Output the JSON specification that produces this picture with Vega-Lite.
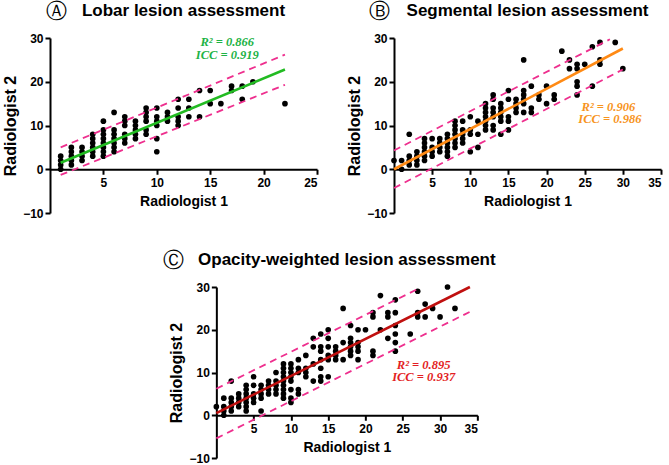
{
  "$schema": "https://vega.github.io/schema/vega-lite/v6.json",
  "padding": {"left": 2, "top": 0, "right": 5, "bottom": 0},
  "background": "white",
  "config": {
    "view": {"stroke": null},
    "axis": {"domainColor": "black", "domainWidth": 2, "tickColor": "black", "tickWidth": 2, "tickSize": 5, "grid": false, "labelFont": "Liberation Sans", "labelFontWeight": "bold", "labelFontSize": 12, "labelColor": "black", "labelPadding": 2, "titleFont": "Liberation Sans", "titleFontWeight": "bold", "titleColor": "black"},
    "title": {"font": "Liberation Sans", "fontSize": 17, "fontWeight": "bold", "color": "black", "anchor": "middle", "offset": -19}
  },
  "datasets": {
    "A_pts": [
      {"x":1,"y":0},{"x":1,"y":1},{"x":1,"y":2},{"x":1,"y":3},
      {"x":2,"y":1},{"x":2,"y":2},{"x":2,"y":3},{"x":2,"y":4},{"x":2,"y":5},
      {"x":3,"y":2},{"x":3,"y":3},{"x":3,"y":4},{"x":3,"y":5},
      {"x":4,"y":3},{"x":4,"y":4},{"x":4,"y":5},{"x":4,"y":6},{"x":4,"y":7},{"x":4,"y":8},
      {"x":5,"y":3},{"x":5,"y":4},{"x":5,"y":5},{"x":5,"y":6},{"x":5,"y":7},{"x":5,"y":8},{"x":5,"y":9},{"x":5,"y":11},
      {"x":6,"y":4},{"x":6,"y":5},{"x":6,"y":6},{"x":6,"y":7},{"x":6,"y":8},{"x":6,"y":9},{"x":6,"y":13},
      {"x":7,"y":6},{"x":7,"y":7},{"x":7,"y":8},{"x":7,"y":10},{"x":7,"y":11},{"x":7,"y":12},
      {"x":8,"y":7},{"x":8,"y":8},{"x":8,"y":9},{"x":8,"y":10},{"x":8,"y":11},
      {"x":9,"y":8},{"x":9,"y":9},{"x":9,"y":11},{"x":9,"y":12},{"x":9,"y":13},{"x":9,"y":14},
      {"x":10,"y":4},{"x":10,"y":7},{"x":10,"y":10},{"x":10,"y":11},{"x":10,"y":12},{"x":10,"y":14},
      {"x":11,"y":11},{"x":11,"y":12},{"x":11,"y":13},
      {"x":12,"y":10},{"x":12,"y":11},{"x":12,"y":12},{"x":12,"y":14},{"x":12,"y":16},
      {"x":13,"y":12},{"x":13,"y":14},{"x":13,"y":16},
      {"x":14,"y":12},{"x":14,"y":18},
      {"x":15,"y":15},{"x":15,"y":18},
      {"x":16,"y":15},
      {"x":17,"y":18},{"x":17,"y":19},
      {"x":18,"y":16},{"x":18,"y":19},
      {"x":19,"y":20},
      {"x":22,"y":15}
    ],
    "A_fit": [{"x":1,"y":1.5},{"x":22,"y":22.8}],
    "A_band": [
      {"x":1,"y":5.0,"side":"upper"},{"x":22,"y":26.2,"side":"upper"},
      {"x":1,"y":-1.3,"side":"lower"},{"x":22,"y":19.3,"side":"lower"}
    ],
    "A_txt": [{"x":16.6,"y":29.0,"t":"R² = 0.866"},{"x":16.6,"y":26.1,"t":"ICC = 0.919"}],
    "A_lab": [{"x":0.64,"y":36.0,"t":"Ⓐ"}],
    "B_pts": [
      {"x":0,"y":2},
      {"x":1,"y":0},{"x":1,"y":2},
      {"x":2,"y":1},{"x":2,"y":2},{"x":2,"y":3},{"x":2,"y":8},
      {"x":3,"y":1},{"x":3,"y":2},{"x":3,"y":3},{"x":3,"y":4},
      {"x":4,"y":2},{"x":4,"y":3},{"x":4,"y":4},{"x":4,"y":5},{"x":4,"y":6},{"x":4,"y":7},
      {"x":5,"y":3},{"x":5,"y":4},{"x":5,"y":5},{"x":5,"y":7},
      {"x":6,"y":4},{"x":6,"y":5},{"x":6,"y":6},{"x":6,"y":7},
      {"x":7,"y":3},{"x":7,"y":4},{"x":7,"y":5},{"x":7,"y":6},{"x":7,"y":7},{"x":7,"y":8},
      {"x":8,"y":5},{"x":8,"y":6},{"x":8,"y":7},{"x":8,"y":8},{"x":8,"y":9},{"x":8,"y":10},{"x":8,"y":11},
      {"x":9,"y":6},{"x":9,"y":7},{"x":9,"y":8},{"x":9,"y":9},{"x":9,"y":11},
      {"x":10,"y":4},{"x":10,"y":8},{"x":10,"y":9},{"x":10,"y":12},
      {"x":11,"y":5},{"x":11,"y":8},{"x":11,"y":11},
      {"x":12,"y":9},{"x":12,"y":10},{"x":12,"y":11},{"x":12,"y":12},{"x":12,"y":13},{"x":12,"y":14},{"x":12,"y":15},
      {"x":13,"y":9},{"x":13,"y":10},{"x":13,"y":12},{"x":13,"y":13},{"x":13,"y":14},{"x":13,"y":16},{"x":13,"y":17},
      {"x":14,"y":8},{"x":14,"y":11},{"x":14,"y":12},{"x":14,"y":13},{"x":14,"y":14},{"x":14,"y":15},
      {"x":15,"y":9},{"x":15,"y":11},{"x":15,"y":12},{"x":15,"y":16},{"x":15,"y":18},
      {"x":16,"y":13},{"x":16,"y":14},{"x":16,"y":15},{"x":16,"y":16},
      {"x":17,"y":13},{"x":17,"y":15},{"x":17,"y":16},{"x":17,"y":17},{"x":17,"y":18},{"x":17,"y":25},
      {"x":18,"y":13},{"x":18,"y":14},{"x":18,"y":19},
      {"x":19,"y":16},{"x":19,"y":17},
      {"x":20,"y":15},{"x":20,"y":19},
      {"x":21,"y":16},{"x":21,"y":17},
      {"x":22,"y":27},
      {"x":23,"y":23},{"x":23,"y":25},
      {"x":24,"y":17},{"x":24,"y":19},{"x":24,"y":20},{"x":24,"y":23},{"x":24,"y":24},
      {"x":25,"y":24},
      {"x":26,"y":19},{"x":26,"y":28},
      {"x":27,"y":24},{"x":27,"y":25},{"x":27,"y":29},
      {"x":29,"y":29},
      {"x":30,"y":23}
    ],
    "B_fit": [{"x":0,"y":0},{"x":30,"y":27.6}],
    "B_band": [
      {"x":0,"y":4.3,"side":"upper"},{"x":28.3,"y":29.7,"side":"upper"},
      {"x":0,"y":-4.3,"side":"lower"},{"x":30,"y":22.8,"side":"lower"}
    ],
    "B_txt": [{"x":28.1,"y":14.3,"t":"R² = 0.906"},{"x":28.3,"y":11.4,"t":"ICC = 0.986"}],
    "B_lab": [{"x":-1.9,"y":36.0,"t":"Ⓑ"}],
    "C_pts": [
      {"x":0,"y":2},
      {"x":1,"y":0},{"x":1,"y":1},{"x":1,"y":2},{"x":1,"y":4},
      {"x":2,"y":1},{"x":2,"y":2},{"x":2,"y":3},{"x":2,"y":4},{"x":2,"y":8},
      {"x":3,"y":2},{"x":3,"y":3},{"x":3,"y":4},{"x":3,"y":5},
      {"x":4,"y":1},{"x":4,"y":2},{"x":4,"y":3},{"x":4,"y":4},{"x":4,"y":5},{"x":4,"y":6},{"x":4,"y":7},
      {"x":5,"y":3},{"x":5,"y":4},{"x":5,"y":5},{"x":5,"y":7},{"x":5,"y":9},
      {"x":6,"y":1},{"x":6,"y":4},{"x":6,"y":5},{"x":6,"y":6},{"x":6,"y":7},
      {"x":7,"y":5},{"x":7,"y":6},{"x":7,"y":7},{"x":7,"y":8},
      {"x":8,"y":5},{"x":8,"y":6},{"x":8,"y":7},{"x":8,"y":8},{"x":8,"y":10},
      {"x":9,"y":4},{"x":9,"y":5},{"x":9,"y":6},{"x":9,"y":7},{"x":9,"y":8},{"x":9,"y":9},{"x":9,"y":10},{"x":9,"y":11},{"x":9,"y":12},
      {"x":10,"y":3},{"x":10,"y":4},{"x":10,"y":6},{"x":10,"y":8},{"x":10,"y":9},{"x":10,"y":10},{"x":10,"y":11},{"x":10,"y":12},
      {"x":11,"y":5},{"x":11,"y":6},{"x":11,"y":10},{"x":11,"y":11},{"x":11,"y":13},
      {"x":12,"y":9},{"x":12,"y":10},{"x":12,"y":11},{"x":12,"y":14},
      {"x":13,"y":8},{"x":13,"y":12},{"x":13,"y":16},{"x":13,"y":18},
      {"x":14,"y":8},{"x":14,"y":9},{"x":14,"y":11},{"x":14,"y":13},{"x":14,"y":15},{"x":14,"y":16},{"x":14,"y":19},
      {"x":15,"y":9},{"x":15,"y":13},{"x":15,"y":14},{"x":15,"y":16},{"x":15,"y":18},{"x":15,"y":20},
      {"x":16,"y":13},{"x":16,"y":14},{"x":16,"y":15},{"x":16,"y":16},
      {"x":17,"y":13},{"x":17,"y":17},{"x":17,"y":25},
      {"x":18,"y":14},{"x":18,"y":15},{"x":18,"y":16},{"x":18,"y":17},{"x":18,"y":18},{"x":18,"y":21},
      {"x":19,"y":13},{"x":19,"y":15},{"x":19,"y":16},{"x":19,"y":17},{"x":19,"y":20},
      {"x":20,"y":20},
      {"x":21,"y":14},{"x":21,"y":15},{"x":21,"y":23},{"x":21,"y":24},
      {"x":22,"y":20},{"x":22,"y":28},
      {"x":23,"y":18},{"x":23,"y":23},{"x":23,"y":24},
      {"x":24,"y":15},{"x":24,"y":17},{"x":24,"y":19},{"x":24,"y":21},{"x":24,"y":24},{"x":24,"y":27},
      {"x":26,"y":19},
      {"x":27,"y":23},{"x":27,"y":24},{"x":27,"y":29},
      {"x":28,"y":23},{"x":28,"y":26},
      {"x":29,"y":25},
      {"x":30,"y":23},
      {"x":31,"y":30},
      {"x":32,"y":25}
    ],
    "C_fit": [{"x":0,"y":0.5},{"x":34,"y":30}],
    "C_band": [
      {"x":0,"y":6.2,"side":"upper"},{"x":27.2,"y":29.7,"side":"upper"},
      {"x":0,"y":-5.4,"side":"lower"},{"x":34,"y":24.2,"side":"lower"}
    ],
    "C_txt": [{"x":27.8,"y":11.8,"t":"R² = 0.895"},{"x":27.8,"y":8.85,"t":"ICC = 0.937"}],
    "C_lab": [{"x":-5.8,"y":36.0,"t":"Ⓒ"}]
  },
  "spacing": 31,
  "center": true,
  "vconcat": [
    {
      "spacing": 28,
      "hconcat": [
        {
          "width": 267, "height": 175,
          "title": {"text": "Lobar lesion assessment"},
          "encoding": {
            "x": {"field": "x", "type": "quantitative", "scale": {"domain": [0, 25], "nice": false, "zero": false}, "axis": {"values": [5, 10, 15, 20, 25], "offset": -43.75, "labelPadding": 3, "title": "Radiologist 1", "titleFontSize": 14, "titlePadding": 6}},
            "y": {"field": "y", "type": "quantitative", "scale": {"domain": [-10, 30], "nice": false}, "axis": {"values": [-10, 0, 10, 20, 30], "title": "Radiologist 2", "titleFontSize": 16, "titlePadding": 4}}
          },
          "layer": [
            {"data": {"name": "A_pts"}, "mark": {"type": "circle", "size": 32, "color": "black", "opacity": 1}},
            {"data": {"name": "A_band"}, "mark": {"type": "line", "color": "#EE2F8E", "strokeWidth": 1.8, "strokeDash": [7, 5]}, "encoding": {"detail": {"field": "side"}}},
            {"data": {"name": "A_fit"}, "mark": {"type": "line", "color": "#22BB22", "strokeWidth": 2.6}},
            {"data": {"name": "A_txt"}, "mark": {"type": "text", "font": "Liberation Serif", "fontStyle": "italic", "fontWeight": "bold", "fontSize": 12.5, "color": "#1DB346", "align": "center", "baseline": "middle"}, "encoding": {"text": {"field": "t"}}},
            {"data": {"name": "A_lab"}, "mark": {"type": "text", "font": "DejaVu Sans", "fontSize": 21, "color": "black", "align": "center", "baseline": "middle"}, "encoding": {"text": {"field": "t"}}}
          ]
        },
        {
          "width": 267, "height": 175,
          "title": {"text": "Segmental lesion assessment"},
          "encoding": {
            "x": {"field": "x", "type": "quantitative", "scale": {"domain": [0, 35], "nice": false, "zero": false}, "axis": {"values": [5, 10, 15, 20, 25, 30, 35], "offset": -43.75, "labelPadding": 3, "title": "Radiologist 1", "titleFontSize": 14, "titlePadding": 6}},
            "y": {"field": "y", "type": "quantitative", "scale": {"domain": [-10, 30], "nice": false}, "axis": {"values": [-10, 0, 10, 20, 30], "title": "Radiologist 2", "titleFontSize": 16, "titlePadding": 4}}
          },
          "layer": [
            {"data": {"name": "B_pts"}, "mark": {"type": "circle", "size": 32, "color": "black", "opacity": 1}},
            {"data": {"name": "B_band"}, "mark": {"type": "line", "color": "#EE2F8E", "strokeWidth": 1.8, "strokeDash": [7, 5]}, "encoding": {"detail": {"field": "side"}}},
            {"data": {"name": "B_fit"}, "mark": {"type": "line", "color": "#FF8A14", "strokeWidth": 2.6}},
            {"data": {"name": "B_txt"}, "mark": {"type": "text", "font": "Liberation Serif", "fontStyle": "italic", "fontWeight": "bold", "fontSize": 12.5, "color": "#F7941D", "align": "center", "baseline": "middle"}, "encoding": {"text": {"field": "t"}}},
            {"data": {"name": "B_lab"}, "mark": {"type": "text", "font": "DejaVu Sans", "fontSize": 21, "color": "black", "align": "center", "baseline": "middle"}, "encoding": {"text": {"field": "t"}}}
          ]
        }
      ]
    },
    {
      "width": 261, "height": 171,
      "title": {"text": "Opacity-weighted lesion assessment"},
      "encoding": {
        "x": {"field": "x", "type": "quantitative", "scale": {"domain": [0, 35], "nice": false, "zero": false}, "axis": {"values": [5, 10, 15, 20, 25, 30, 35], "offset": -42.75, "labelPadding": 3, "title": "Radiologist 1", "titleFontSize": 14, "titlePadding": 6}},
        "y": {"field": "y", "type": "quantitative", "scale": {"domain": [-10, 30], "nice": false}, "axis": {"values": [-10, 0, 10, 20, 30], "title": "Radiologist 2", "titleFontSize": 16, "titlePadding": 4}}
      },
      "layer": [
        {"data": {"name": "C_pts"}, "mark": {"type": "circle", "size": 32, "color": "black", "opacity": 1}},
        {"data": {"name": "C_band"}, "mark": {"type": "line", "color": "#EE2F8E", "strokeWidth": 1.8, "strokeDash": [7, 5]}, "encoding": {"detail": {"field": "side"}}},
        {"data": {"name": "C_fit"}, "mark": {"type": "line", "color": "#C0100F", "strokeWidth": 2.6}},
        {"data": {"name": "C_txt"}, "mark": {"type": "text", "font": "Liberation Serif", "fontStyle": "italic", "fontWeight": "bold", "fontSize": 12.5, "color": "#E31E24", "align": "center", "baseline": "middle"}, "encoding": {"text": {"field": "t"}}},
        {"data": {"name": "C_lab"}, "mark": {"type": "text", "font": "DejaVu Sans", "fontSize": 21, "color": "black", "align": "center", "baseline": "middle"}, "encoding": {"text": {"field": "t"}}}
      ]
    }
  ]
}
